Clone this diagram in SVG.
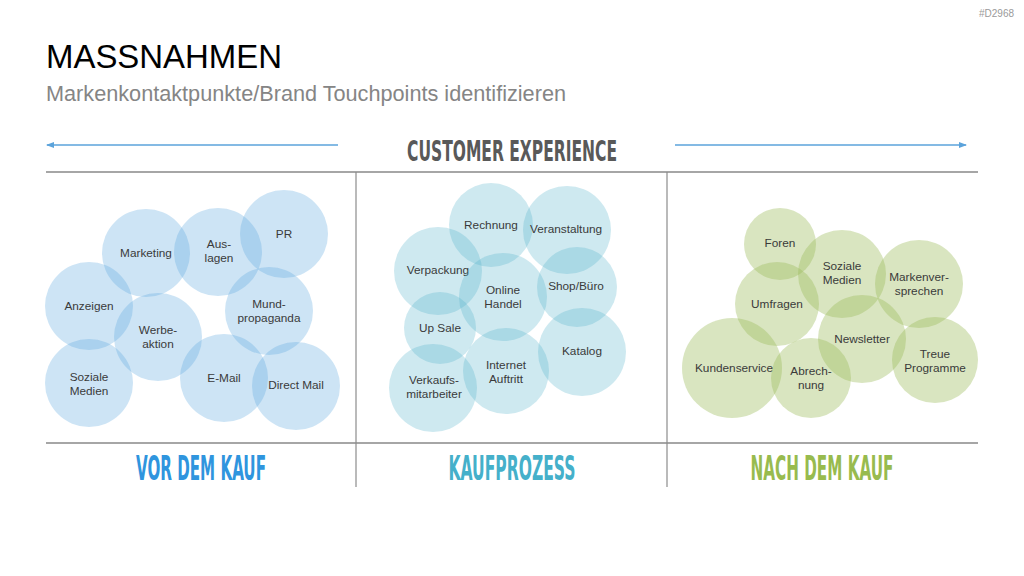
<svg xmlns="http://www.w3.org/2000/svg" width="1024" height="576" viewBox="0 0 1024 576">
<style>
.t{font-family:"Liberation Sans",Arial,sans-serif;font-size:11.8px;fill:#3a3a3a;text-anchor:middle}
.b{fill:#5AA5DE;fill-opacity:0.3}
.m{fill:#4BACC6;fill-opacity:0.27}
.g{fill:#9BBB59;fill-opacity:0.38}
.cond{font-family:"Liberation Sans Narrow","DejaVu Sans Condensed","Liberation Sans",sans-serif;font-weight:bold;text-anchor:middle}
.rule{stroke:#a6a6a6;stroke-width:2;fill:none}
.vr{stroke:#8c8c8c;stroke-width:1.2;fill:none}
.arr{stroke:#5BA3DB;stroke-width:1.3;fill:none}
</style>
<defs>
<marker id="ah" markerWidth="8" markerHeight="6" refX="7" refY="3" orient="auto" markerUnits="userSpaceOnUse">
<path d="M0,0 L8,3 L0,6 z" fill="#5BA3DB"/>
</marker>
</defs>
<rect width="1024" height="576" fill="#ffffff"/>
<text x="1014" y="17" font-family="Liberation Sans,Arial,sans-serif" font-size="10" fill="#9a9a9a" text-anchor="end">#D2968</text>
<text x="46" y="68" font-family="Liberation Sans,Arial,sans-serif" font-size="33" fill="#000" textLength="236" lengthAdjust="spacingAndGlyphs">MASSNAHMEN</text>
<text x="46" y="101" font-family="Liberation Sans,Arial,sans-serif" font-size="22" fill="#858585" textLength="520" lengthAdjust="spacingAndGlyphs">Markenkontaktpunkte/Brand Touchpoints identifizieren</text>
<text class="cond" x="512" y="161" font-size="29" fill="#595959" textLength="210" lengthAdjust="spacingAndGlyphs">CUSTOMER EXPERIENCE</text>

<g id="connectors">
<line class="arr" x1="338" y1="145" x2="47" y2="145" marker-end="url(#ah)"/>
<line class="arr" x1="675" y1="145" x2="966" y2="145" marker-end="url(#ah)"/>
<line class="rule" x1="46" y1="172" x2="978" y2="172"/>
<line class="rule" x1="46" y1="443" x2="978" y2="443"/>
<line class="vr" x1="356" y1="172" x2="356" y2="487"/>
<line class="vr" x1="667" y1="172" x2="667" y2="487"/>
</g>

<g id="left">
<g id="n-marketing"><circle class="b" cx="146" cy="253" r="44"/><text class="t" x="146" y="257">Marketing</text></g>
<g id="n-auslagen"><circle class="b" cx="218" cy="252" r="44"/><text class="t" x="219" y="248">Aus-</text><text class="t" x="219" y="262">lagen</text></g>
<g id="n-pr"><circle class="b" cx="284" cy="234" r="44"/><text class="t" x="284" y="238">PR</text></g>
<g id="n-anzeigen"><circle class="b" cx="89" cy="306" r="44"/><text class="t" x="89" y="310">Anzeigen</text></g>
<g id="n-werbeaktion"><circle class="b" cx="158" cy="337" r="44"/><text class="t" x="158" y="334">Werbe-</text><text class="t" x="158" y="348">aktion</text></g>
<g id="n-mund"><circle class="b" cx="269" cy="311" r="44"/><text class="t" x="269" y="308">Mund-</text><text class="t" x="269" y="322">propaganda</text></g>
<g id="n-soziale1"><circle class="b" cx="89" cy="383" r="44"/><text class="t" x="89" y="381">Soziale</text><text class="t" x="89" y="395">Medien</text></g>
<g id="n-email"><circle class="b" cx="224" cy="378" r="44"/><text class="t" x="224" y="382">E-Mail</text></g>
<g id="n-directmail"><circle class="b" cx="296" cy="386" r="44"/><text class="t" x="296" y="389">Direct Mail</text></g>
</g>

<g id="middle">
<g id="n-rechnung"><circle class="m" cx="491" cy="225" r="42"/><text class="t" x="491" y="229">Rechnung</text></g>
<g id="n-veranstaltung"><circle class="m" cx="567" cy="230" r="44"/><text class="t" x="566" y="233">Veranstaltung</text></g>
<g id="n-verpackung"><circle class="m" cx="438" cy="271" r="44"/><text class="t" x="438" y="274">Verpackung</text></g>
<g id="n-online"><circle class="m" cx="503" cy="297" r="44"/><text class="t" x="503" y="294">Online</text><text class="t" x="503" y="308">Handel</text></g>
<g id="n-shop"><circle class="m" cx="577" cy="287" r="40"/><text class="t" x="576" y="290">Shop/Büro</text></g>
<g id="n-upsale"><circle class="m" cx="440" cy="328" r="36"/><text class="t" x="440" y="332">Up Sale</text></g>
<g id="n-katalog"><circle class="m" cx="582" cy="352" r="44"/><text class="t" x="582" y="355">Katalog</text></g>
<g id="n-internet"><circle class="m" cx="506" cy="371" r="43"/><text class="t" x="506" y="369">Internet</text><text class="t" x="506" y="383">Auftritt</text></g>
<g id="n-verkauf"><circle class="m" cx="433" cy="388" r="44"/><text class="t" x="434" y="384">Verkaufs-</text><text class="t" x="434" y="398">mitarbeiter</text></g>
</g>

<g id="right">
<g id="n-foren"><circle class="g" cx="780" cy="244" r="36"/><text class="t" x="780" y="247">Foren</text></g>
<g id="n-soziale2"><circle class="g" cx="842" cy="274" r="44"/><text class="t" x="842" y="270">Soziale</text><text class="t" x="842" y="284">Medien</text></g>
<g id="n-marken"><circle class="g" cx="919" cy="284" r="44"/><text class="t" x="919" y="281">Markenver-</text><text class="t" x="919" y="295">sprechen</text></g>
<g id="n-umfragen"><circle class="g" cx="777" cy="304" r="42"/><text class="t" x="777" y="308">Umfragen</text></g>
<g id="n-newsletter"><circle class="g" cx="862" cy="339" r="44"/><text class="t" x="862" y="343">Newsletter</text></g>
<g id="n-kunden"><circle class="g" cx="732" cy="368" r="50"/><text class="t" x="734" y="372">Kundenservice</text></g>
<g id="n-abrechnung"><circle class="g" cx="811" cy="378" r="40"/><text class="t" x="811" y="375">Abrech-</text><text class="t" x="811" y="389">nung</text></g>
<g id="n-treue"><circle class="g" cx="935" cy="360" r="43"/><text class="t" x="935" y="358">Treue</text><text class="t" x="935" y="372">Programme</text></g>
</g>

<text class="cond" x="201" y="480" font-size="33" fill="#2F95DE" textLength="130" lengthAdjust="spacingAndGlyphs">VOR DEM KAUF</text>
<text class="cond" x="512" y="480" font-size="33" fill="#45B0CA" textLength="127" lengthAdjust="spacingAndGlyphs">KAUFPROZESS</text>
<text class="cond" x="822" y="480" font-size="33" fill="#98BB4E" textLength="143" lengthAdjust="spacingAndGlyphs">NACH DEM KAUF</text>
</svg>
